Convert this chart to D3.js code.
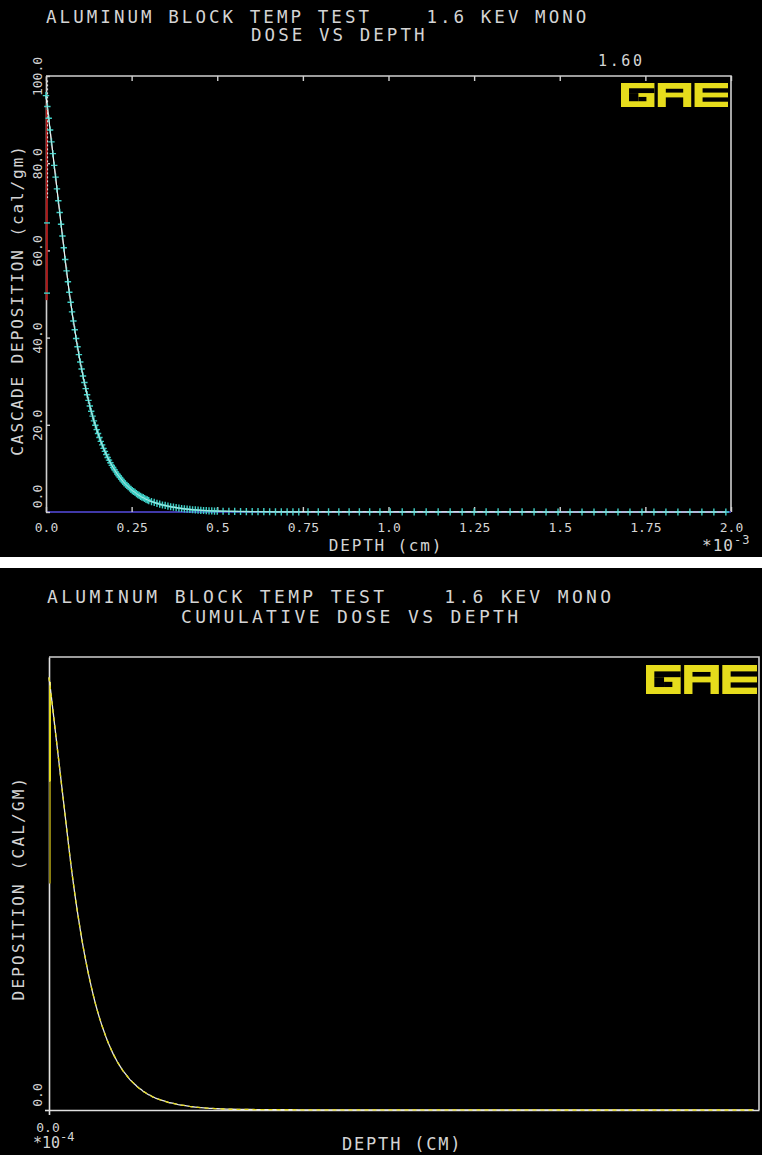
<!DOCTYPE html>
<html>
<head>
<meta charset="utf-8">
<script src="https://cdn.jsdelivr.net/npm/d3@7"></script>
<style>
  html, body { margin: 0; padding: 0; background: #fff; }
  svg { display: block; }
  text { font-family: "DejaVu Sans Mono", monospace; fill: #d4d4d4; white-space: pre; }
</style>
</head>
<body>
<svg id="chart" width="762" height="1155"></svg>
<script>
// Depth of each scoring bin, in units of 1e-3 cm
const depth = [
  0.000, 0.004, 0.008, 0.012, 0.016, 0.020, 0.024, 0.028, 0.032, 0.036,
  0.040, 0.044, 0.048, 0.052, 0.056, 0.060, 0.064, 0.068, 0.072, 0.076,
  0.080, 0.084, 0.088, 0.092, 0.096, 0.100, 0.104, 0.108, 0.112, 0.116,
  0.120, 0.124, 0.128, 0.132, 0.136, 0.140, 0.144, 0.148, 0.152, 0.156,
  0.160, 0.164, 0.168, 0.172, 0.176, 0.180, 0.184, 0.188, 0.192, 0.196,
  0.200, 0.204, 0.208, 0.212, 0.216, 0.220, 0.224, 0.228, 0.232, 0.236,
  0.240, 0.244, 0.248, 0.252, 0.256, 0.260, 0.264, 0.268, 0.272, 0.276,
  0.280, 0.284, 0.288, 0.292, 0.296, 0.300,
  0.308, 0.316, 0.324, 0.332, 0.340, 0.348, 0.356, 0.364, 0.372, 0.380,
  0.388, 0.396, 0.404, 0.412, 0.420, 0.428, 0.436, 0.444, 0.452, 0.460,
  0.468, 0.476, 0.484, 0.492, 0.500,
  0.517, 0.534, 0.551, 0.568, 0.585, 0.602, 0.619, 0.636, 0.653, 0.670,
  0.687, 0.704, 0.721, 0.738,
  0.765, 0.795, 0.825, 0.855, 0.885, 0.915, 0.945, 0.975,
  1.005, 1.040, 1.075, 1.110, 1.145, 1.180, 1.215, 1.250, 1.285, 1.320,
  1.355, 1.390, 1.425, 1.460, 1.495, 1.530, 1.565, 1.600, 1.635, 1.670,
  1.705, 1.740, 1.775, 1.810, 1.845, 1.880, 1.915, 1.950, 1.985
];

// Cascade energy deposition per bin (cal/gm)
const dose = [
  95.5, 93.0, 90.3, 87.6, 84.9, 82.2, 79.5, 76.8, 74.1, 71.4,
  68.7, 66.0, 63.3, 60.6, 57.9, 55.3, 52.8, 50.4, 48.1, 45.9,
  43.8, 41.8, 39.8, 37.9, 36.1, 34.4, 32.8, 31.2, 29.7, 28.3,
  26.9, 25.6, 24.3, 23.1, 22.0, 20.9, 19.9, 18.9, 18.0, 17.1,
  16.2, 15.4, 14.6, 13.9, 13.2, 12.5, 11.9, 11.3, 10.7, 10.2,
  9.7, 9.2, 8.7, 8.3, 7.9, 7.5, 7.1, 6.7, 6.4, 6.1,
  5.8, 5.5, 5.2, 4.9, 4.7, 4.5, 4.2, 4.0, 3.8, 3.6,
  3.4, 3.3, 3.1, 2.9, 2.8, 2.6,
  2.4, 2.2, 2.0, 1.8, 1.6, 1.5, 1.35, 1.2, 1.1, 1.0,
  0.9, 0.8, 0.72, 0.65, 0.58, 0.52, 0.47, 0.42, 0.38, 0.34,
  0.31, 0.28, 0.25, 0.22, 0.20,
  0.17, 0.15, 0.13, 0.11, 0.10, 0.09, 0.08, 0.07, 0.06, 0.05,
  0.05, 0.04, 0.04, 0.03,
  0.03, 0.03, 0.02, 0.02, 0.02, 0.02, 0.01, 0.01,
  0.01, 0.01, 0.01, 0.01, 0.01, 0.01, 0.01, 0.01, 0.01, 0.01,
  0.01, 0.01, 0.01, 0.00, 0.00, 0.00, 0.00, 0.00, 0.00, 0.00,
  0.00, 0.00, 0.00, 0.00, 0.00, 0.00, 0.00, 0.00, 0.00
];

// Surface-bin uncertainty band and its marked levels (cal/gm)
const surfaceErrLow = 48.6;
const surfaceErrHigh = 93.8;
const surfaceErrMarks = [66.3, 50.2];

// Cumulative plot surface band (cal/gm)
const cumErrBright = [94.5, 72.5];
const cumErrDim = [72.5, 50.0];

const xTicks = [0, 0.25, 0.5, 0.75, 1.0, 1.25, 1.5, 1.75, 2.0];
const xTickLabels = ["0.0", "0.25", "0.5", "0.75", "1.0", "1.25", "1.5", "1.75", "2.0"];
const yTicks = [0, 20, 40, 60, 80, 100];
const yTickLabels = ["0.0", "20.0", "40.0", "60.0", "80.0", "100.0"];

const titleLine1 = "ALUMINUM BLOCK TEMP TEST    1.6 KEV MONO";
const titleDose = "DOSE VS DEPTH";
const titleCum = "CUMULATIVE DOSE VS DEPTH";
const energyLabel = "1.60";

const GRAY = "#cfcfcf";
const CYAN = "#3ecfc6";
const YELLOW = "#e6dc1c";

const svg = d3.select("#chart");
svg.append("rect").attr("width", 762).attr("height", 1155).attr("fill", "#fff");
svg.append("rect").attr("x", 0).attr("y", 0).attr("width", 762).attr("height", 557).attr("fill", "#000");
svg.append("rect").attr("x", 0).attr("y", 568).attr("width", 762).attr("height", 587).attr("fill", "#000");

// Blocky "GAE" logo: yellow letter boxes with black cut-outs
function drawLogo(g, x0, y0, w, h) {
  const lw = w / 3.2, gap = (w - 3 * lw) / 2;
  const cuts = [
    [[0.24, 0.22, 1.0, 0.42], [0.24, 0.42, 0.52, 0.76], [0.52, 0.58, 0.76, 0.76]],
    [[0.24, 0.24, 0.76, 0.40], [0.24, 0.60, 0.76, 1.0]],
    [[0.24, 0.22, 1.0, 0.40], [0.24, 0.60, 1.0, 0.78]]
  ];
  cuts.forEach((c, i) => {
    const lx = x0 + i * (lw + gap);
    g.append("rect").attr("x", lx).attr("y", y0).attr("width", lw).attr("height", h).attr("fill", YELLOW);
    c.forEach(r => {
      g.append("rect")
        .attr("x", lx + r[0] * lw).attr("y", y0 + r[1] * h)
        .attr("width", (r[2] - r[0]) * lw).attr("height", (r[3] - r[1]) * h)
        .attr("fill", "#000");
    });
  });
}

function crossPath() { return "M-3.2,0H3.2M0,-3.6V3.6"; }

/* ---------------- Top panel: dose vs depth ---------------- */
{
  const g = svg.append("g");
  const x = d3.scaleLinear().domain([0, 2]).range([46, 731]);
  const y = d3.scaleLinear().domain([0, 100]).range([512, 76]);

  g.append("text").attr("x", 46).attr("y", 23)
    .style("font-size", "17.5px").style("letter-spacing", "3.05px").text(titleLine1);
  g.append("text").attr("x", 251).attr("y", 41)
    .style("font-size", "17.5px").style("letter-spacing", "3.05px").text(titleDose);
  g.append("text").attr("x", 598).attr("y", 66)
    .style("font-size", "15px").style("letter-spacing", "2.6px").text(energyLabel);

  // frame: top and right edges
  g.append("path").attr("d", `M${x(0)},${y(100)}H${x(2)}V${y(0)}`)
    .attr("fill", "none").attr("stroke", GRAY).attr("stroke-width", 1.6);

  // top ticks
  const top = g.append("g").attr("transform", `translate(0,${y(100)})`)
    .call(d3.axisTop(x).tickValues(xTicks).tickSize(-5).tickFormat(""));
  top.select(".domain").remove();
  top.selectAll("line").attr("stroke", GRAY).attr("stroke-width", 1.4);

  // zero line
  g.append("line").attr("x1", x(0)).attr("x2", x(2)).attr("y1", y(0)).attr("y2", y(0))
    .attr("stroke", "#4038a8").attr("stroke-width", 2);

  // bottom axis
  const bx = g.append("g").attr("transform", `translate(0,${y(0)})`)
    .call(d3.axisBottom(x).tickValues(xTicks).tickSizeInner(-5).tickSizeOuter(0)
      .tickPadding(11).tickFormat((d, i) => xTickLabels[i]));
  bx.select(".domain").remove();
  bx.selectAll("line").attr("stroke", GRAY).attr("stroke-width", 1.4);
  bx.selectAll("text").attr("fill", "#d4d4d4").style("font-size", "13px")
    .style("font-family", "'DejaVu Sans Mono', monospace");

  // left axis
  const ly = g.append("g").attr("transform", `translate(${x(0)},0)`)
    .call(d3.axisLeft(y).tickValues(yTicks).tickSizeInner(-4).tickSizeOuter(0)
      .tickFormat((d, i) => yTickLabels[i]));
  ly.select(".domain").attr("stroke", GRAY).attr("stroke-width", 1.6);
  ly.selectAll("line").attr("stroke", GRAY).attr("stroke-width", 1.4);
  ly.selectAll("text").attr("x", null).attr("dy", null)
    .attr("text-anchor", "middle").attr("fill", "#d4d4d4")
    .style("font-size", "13px").style("font-family", "'DejaVu Sans Mono', monospace")
    .attr("transform", d => `translate(-4,${d === 0 ? -16 : 0}) rotate(-90)`);

  g.append("text").attr("transform", `translate(23,300) rotate(-90)`)
    .attr("text-anchor", "middle")
    .style("font-size", "16px").style("letter-spacing", "1.9px")
    .text("CASCADE DEPOSITION (cal/gm)");
  g.append("text").attr("x", 386).attr("y", 551).attr("text-anchor", "middle")
    .style("font-size", "16px").style("letter-spacing", "1.8px").text("DEPTH (cm)");
  const ex = g.append("text").attr("x", 702).attr("y", 551)
    .style("font-size", "16px").style("letter-spacing", "1px");
  ex.append("tspan").text("*10");
  ex.append("tspan").attr("dy", -7).style("font-size", "12px").text("-3");

  // surface-bin uncertainty
  g.append("line").attr("x1", x(0) + 0.8).attr("x2", x(0) + 0.8)
    .attr("y1", y(surfaceErrLow)).attr("y2", y(surfaceErrHigh))
    .attr("stroke", "#b01818").attr("stroke-width", 2);
  g.append("line").attr("x1", x(0) + 1.6).attr("x2", x(0) + 1.6)
    .attr("y1", y(99)).attr("y2", y(72))
    .attr("stroke", "#e8e8e8").attr("stroke-width", 1).attr("stroke-dasharray", "2,2");
  g.selectAll(".errmark").data(surfaceErrMarks).join("path")
    .attr("transform", v => `translate(${x(0) + 1},${y(v)})`)
    .attr("d", "M-3,0H3").attr("stroke", CYAN).attr("stroke-width", 1.4);

  const pts = depth.map((d, i) => [d, dose[i]]);
  const line = d3.line().x(p => x(p[0])).y(p => y(p[1]));
  g.append("path").datum(pts).attr("d", line)
    .attr("fill", "none").attr("stroke", "#f0f0f0").attr("stroke-width", 1.2);
  g.selectAll(".mk").data(pts).join("path")
    .attr("transform", p => `translate(${x(p[0])},${y(p[1])})`)
    .attr("d", crossPath()).attr("stroke", CYAN).attr("stroke-width", 1.4).attr("fill", "none");
  // white trace shows through the markers
  g.append("path").datum(pts).attr("d", line)
    .attr("fill", "none").attr("stroke", "#f4f4f4").attr("stroke-width", 0.8).attr("opacity", 0.8);

  drawLogo(g, 621, 83, 107, 24);
}

/* ---------------- Bottom panel: cumulative dose vs depth ---------------- */
{
  const g = svg.append("g");
  const x = d3.scaleLinear().domain([0, 2]).range([49, 759]);
  const y = d3.scaleLinear().domain([0, 100]).range([1110, 657]);

  g.append("text").attr("x", 47).attr("y", 603)
    .style("font-size", "18px").style("letter-spacing", "3.35px").text(titleLine1);
  g.append("text").attr("x", 181).attr("y", 623)
    .style("font-size", "18px").style("letter-spacing", "3.35px").text(titleCum);

  g.append("path").attr("d", `M${x(0)},${y(100)}H${x(2)}V${y(0)}`)
    .attr("fill", "none").attr("stroke", GRAY).attr("stroke-width", 1.6);

  const bx = g.append("g").attr("transform", `translate(0,${y(0)})`)
    .call(d3.axisBottom(x).tickValues([0]).tickSizeInner(5).tickSizeOuter(0).tickFormat(""));
  bx.selectAll("path,line").attr("stroke", "#e0e0e0").attr("stroke-width", 1.6);
  const ly = g.append("g").attr("transform", `translate(${x(0)},0)`)
    .call(d3.axisLeft(y).tickValues([0]).tickSizeInner(4).tickSizeOuter(0).tickFormat(""));
  ly.selectAll("path,line").attr("stroke", "#e0e0e0").attr("stroke-width", 1.6);

  g.append("text").attr("transform", `translate(${x(0) - 7},${y(0) - 15}) rotate(-90)`)
    .attr("text-anchor", "middle").style("font-size", "13px").text(yTickLabels[0]);
  g.append("text").attr("x", x(0) - 1).attr("y", 1132).attr("text-anchor", "middle")
    .style("font-size", "13px").text(xTickLabels[0]);
  const ex = g.append("text").attr("x", 33).attr("y", 1148).style("font-size", "15px");
  ex.append("tspan").text("*10");
  ex.append("tspan").attr("dy", -7).style("font-size", "12px").text("-4");

  g.append("text").attr("transform", `translate(24,888) rotate(-90)`)
    .attr("text-anchor", "middle")
    .style("font-size", "16px").style("letter-spacing", "2.2px")
    .text("DEPOSITION (CAL/GM)");
  g.append("text").attr("x", 342).attr("y", 1150)
    .style("font-size", "17px").style("letter-spacing", "1.8px").text("DEPTH (CM)");

  // surface-bin band
  g.append("line").attr("x1", x(0) + 1).attr("x2", x(0) + 1)
    .attr("y1", y(cumErrDim[0])).attr("y2", y(cumErrDim[1]))
    .attr("stroke", "#8a7e10").attr("stroke-width", 2);
  g.append("line").attr("x1", x(0) + 1).attr("x2", x(0) + 1)
    .attr("y1", y(cumErrBright[0])).attr("y2", y(cumErrBright[1]))
    .attr("stroke", YELLOW).attr("stroke-width", 2);

  const pts = depth.map((d, i) => [d, dose[i]]);
  const line = d3.line().x(p => x(p[0])).y(p => y(p[1]));
  g.append("path").datum(pts).attr("d", line)
    .attr("fill", "none").attr("stroke", "#e8e8e8").attr("stroke-width", 1.3);
  g.append("path").datum(pts).attr("d", line)
    .attr("fill", "none").attr("stroke", YELLOW).attr("stroke-width", 1.3)
    .attr("stroke-dasharray", "4,4");

  drawLogo(g, 646, 665, 111, 29);
}
</script>
</body>
</html>
